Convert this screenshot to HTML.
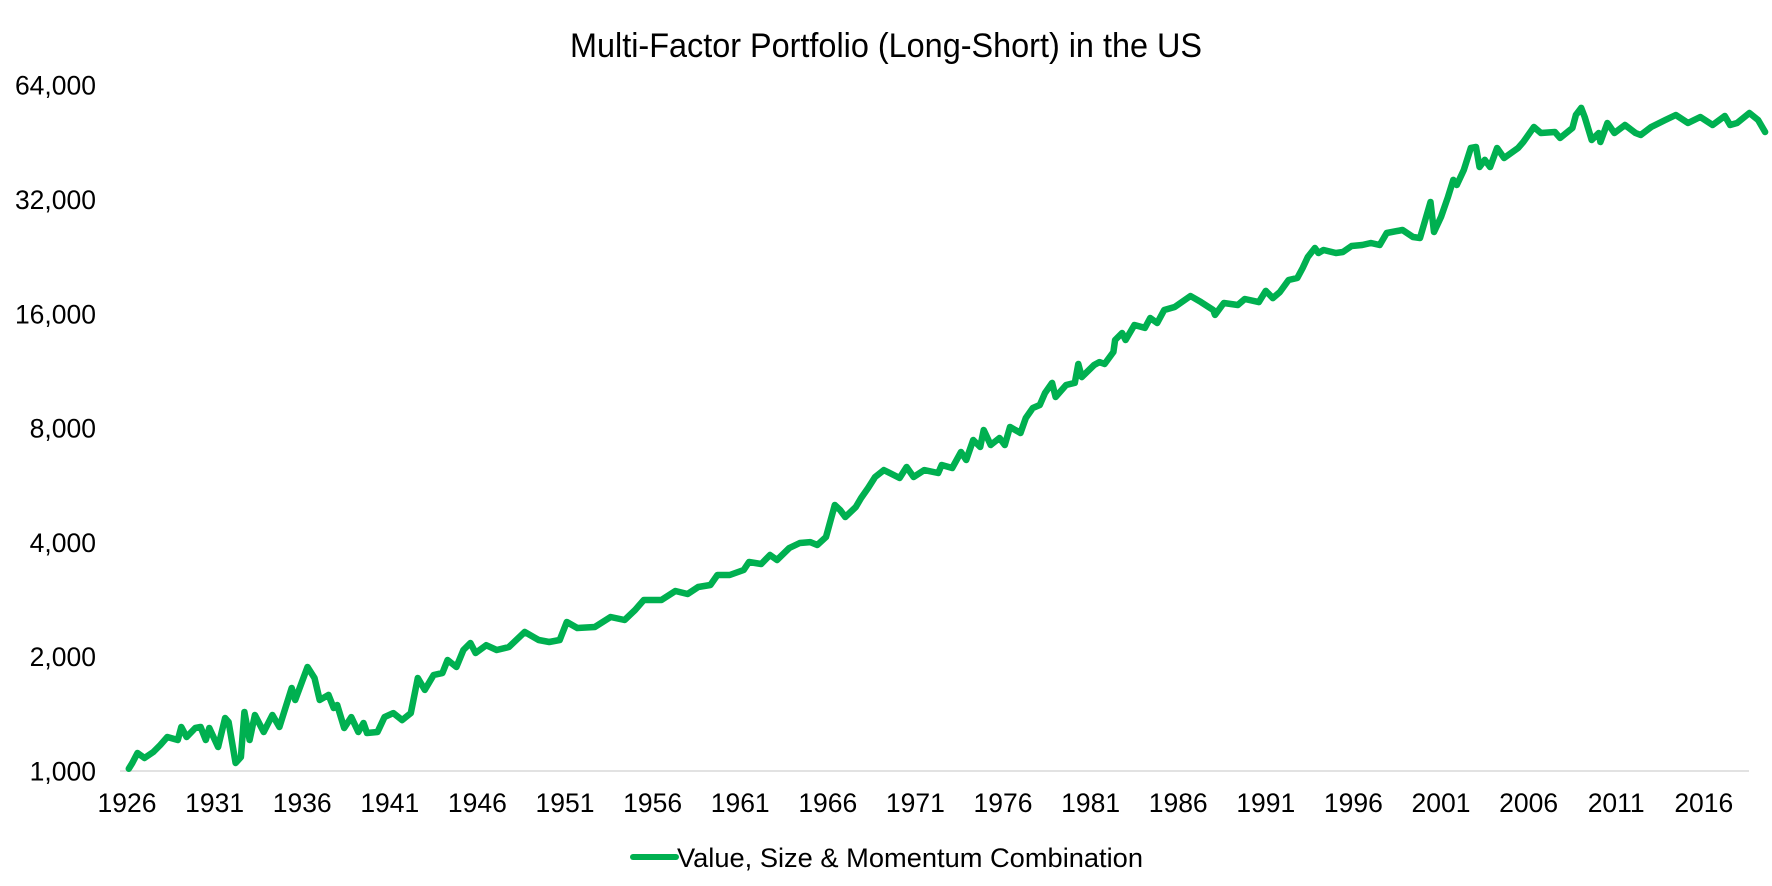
<!DOCTYPE html>
<html>
<head>
<meta charset="utf-8">
<style>
  html,body{margin:0;padding:0;background:#fff;}
  #chart{display:block;}
  text{font-family:"Liberation Sans", Arial, sans-serif;fill:#000;}
</style>
</head>
<body>
<svg id="chart" width="1772" height="886" viewBox="0 0 1772 886" xmlns="http://www.w3.org/2000/svg">
  <rect x="0" y="0" width="1772" height="886" fill="#fff"/>
  <text x="886" y="57" text-anchor="middle" font-size="34" textLength="632" lengthAdjust="spacingAndGlyphs">Multi-Factor Portfolio (Long-Short) in the US</text>
  <g id="yaxis"></g>
  <g id="xaxis"></g>
  <line x1="120" y1="771" x2="1749" y2="771" stroke="#d9d9d9" stroke-width="1.5"/>
  <g id="series"></g>
  <g>
    <line x1="633" y1="857" x2="676" y2="857" stroke="#00B050" stroke-width="6" stroke-linecap="round"/>
    <text x="677" y="867" font-size="26.5" textLength="466" lengthAdjust="spacingAndGlyphs">Value, Size &amp; Momentum Combination</text>
  </g>
</svg>
<script>
const yTickValues = [1000, 2000, 4000, 8000, 16000, 32000, 64000];
const yTickLabels = ["1,000", "2,000", "4,000", "8,000", "16,000", "32,000", "64,000"];
const xTickYears = [1926,1931,1936,1941,1946,1951,1956,1961,1966,1971,1976,1981,1986,1991,1996,2001,2006,2011,2016];
const years = [
1926.1,1926.3,1926.6,1927,1927.5,1927.9,1928.3,1928.9,1929.1,1929.4,1929.9,1930.2,1930.5,1930.7,1931.2,1931.6,1931.8,1932.2,1932.5,1932.7,1933,1933.3,1933.8,1934.3,1934.7,1935.4,1935.6,1936.3,1936.7,1937,1937.5,1937.8,1938,1938.4,1938.8,1939.2,1939.5,1939.7,1940.3,1940.7,1941.2,1941.7,1942.2,1942.6,1943,1943.5,1944,1944.3,1944.8,1945.2,1945.6,1945.9,
1946.5,1947.1,1947.8,1948.7,1949.5,1950.1,1950.7,1951.1,1951.7,1952.7,1953.6,1954.4,1955,1955.5,1956.5,1957.3,1958,1958.6,1959.3,1959.7,1960.4,1961.2,1961.5,1962.2,1962.7,1963.1,1963.8,1964.4,1965,1965.4,1965.9,1966.4,1966.7,1967,1967.6,1967.9,1968.3,1968.7,
1969.2,1970.1,1970.5,1970.9,1971.5,1972.3,1972.5,1973.1,1973.6,1973.9,1974.3,1974.7,1974.9,1975.3,1975.8,1976.1,1976.4,1977,1977.3,1977.7,1978.1,1978.4,1978.8,1979,1979.6,1980.1,1980.3,1980.5,1981.2,1981.5,1981.8,1982.3,1982.4,1982.8,1983,1983.5,1984.1,1984.4,1984.8,1985.2,1985.8,1986.2,1986.7,1987.3,1988,1988.1,1988.6,1989.4,1989.8,1990.6,1991,
1991.4,1991.8,1992.3,1992.8,1993.1,1993.4,1993.8,1994,1994.3,1995,1995.4,1995.9,1996.5,1997,1997.5,1997.9,
1998.8,1999.4,1999.8,2000.4,2000.6,2001,2001.4,2001.7,2001.9,2002.3,2002.7,2003,2003.2,2003.5,2003.8,2004.2,2004.6,2005.4,2005.7,2006.3,2006.7,2007.5,2007.8,2008.5,2008.7,
2009,2009.2,2009.6,2010,2010.1,2010.5,2010.9,2011.5,2012.1,2012.4,2013,2013.8,2014.4,2015.1,2015.8,2016.5,2017.2,2017.5,2017.9,2018.6,2019.1,2019.5
];
const values = [
1014,1050,1115,1082,1122,1171,1229,1207,1306,1229,1298,1306,1207,1298,1157,1379,1346,1050,1088,1430,1207,1404,1267,1404,1306,1654,1538,1879,1758,1538,1586,1465,1492,1298,1387,1267,1338,1259,1267,1387,1421,1362,1421,1758,1635,1790,1811,1960,1879,2083,2173,2045,
2144,2083,2121,2323,2213,2187,2213,2469,2380,2395,2544,2498,2655,2821,2821,2979,2926,3052,3089,3283,3283,3384,3552,3509,3706,3595,3866,3986,4008,3937,4132,5017,4867,4665,4958,5235,5563,5946,
6203,5910,6320,5946,6203,6093,6395,6281,6921,6593,7443,7135,7906,7221,7533,7221,8055,7765,8503,9037,9203,9898,10520,9660,10390,10520,11800,10900,11730,11940,11800,12690,13650,14240,13650,14950,14690,15600,15130,16370,16670,17180,17820,17180,16370,15890,17080,16880,17500,17180,18380,
17600,18250,19640,19880,21110,22580,23850,23140,23560,23140,23280,24130,24280,24580,24280,26120,
26600,25490,25340,31520,26280,28780,32500,36030,34950,38270,43740,43990,38970,40680,38970,43740,41160,43740,45350,49660,47900,48200,46470,49380,53420,
55760,52790,45900,47900,45350,50880,47900,50280,47900,47310,49660,51830,53420,50880,52790,50280,53100,50280,50880,54080,51830,48200
];

const NS = "http://www.w3.org/2000/svg";
function xScale(yr){ return 127 + (yr - 1926) * 17.52; }
function yScale(v){ return 771 - 114.3 * Math.log2(v / 1000); }

const yaxis = document.getElementById('yaxis');
yTickValues.forEach(function(v, i){
  const t = document.createElementNS(NS, 'text');
  t.setAttribute('x', 96);
  t.setAttribute('y', yScale(v) + 9.5);
  t.setAttribute('text-anchor', 'end');
  t.setAttribute('font-size', '26.5');
  t.textContent = yTickLabels[i];
  
  
  yaxis.appendChild(t);
});

const xaxis = document.getElementById('xaxis');
xTickYears.forEach(function(yr){
  const t = document.createElementNS(NS, 'text');
  t.setAttribute('x', xScale(yr));
  t.setAttribute('y', 812);
  t.setAttribute('text-anchor', 'middle');
  t.setAttribute('font-size', '26.5');
  t.textContent = String(yr);
  
  
  xaxis.appendChild(t);
});

const series = document.getElementById('series');
let d = '';
for (let i = 0; i < years.length; i++) {
  d += (i === 0 ? 'M' : 'L') + xScale(years[i]).toFixed(1) + ',' + yScale(values[i]).toFixed(1);
}
const path = document.createElementNS(NS, 'path');
path.setAttribute('d', d);
path.setAttribute('fill', 'none');
path.setAttribute('stroke', '#00B050');
path.setAttribute('stroke-width', '6.5');
path.setAttribute('stroke-linejoin', 'round');
path.setAttribute('stroke-linecap', 'round');


series.appendChild(path);
</script>
</body>
</html>
